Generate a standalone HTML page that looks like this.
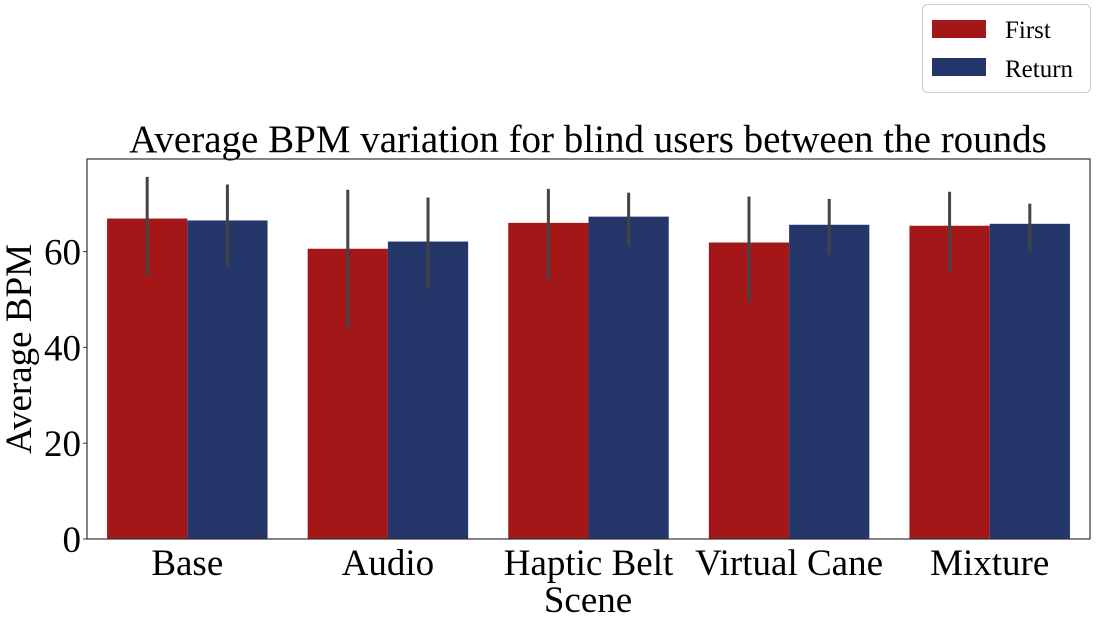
<!DOCTYPE html>
<html><head><meta charset="utf-8"><style>
html,body{margin:0;padding:0;background:#fff;width:1098px;height:625px;overflow:hidden}
text{font-family:"Liberation Serif",serif;fill:#000}
</style></head><body>
<svg id="chart" width="1098" height="625" xmlns="http://www.w3.org/2000/svg">
<text x="588" y="152" font-size="39" text-anchor="middle">Average BPM variation for blind users between the rounds</text>
<text x="588" y="612" font-size="37" text-anchor="middle">Scene</text>
<text transform="translate(31,349) rotate(-90)" font-size="37" text-anchor="middle">Average BPM</text>
<g id="bars"></g>
<rect x="87" y="159" width="1003" height="380" fill="none" stroke="#333" stroke-width="1.2"/>
<g id="axes"></g>
<g>
<rect x="922.5" y="4.5" width="168" height="88" rx="5" fill="#fff" stroke="#ccc"/>
<rect x="932" y="20" width="54" height="18" fill="#a31719"/>
<text x="1005" y="38" font-size="25">First</text>
<rect x="932" y="58" width="54" height="18" fill="#25376a"/>
<text x="1005" y="77" font-size="25">Return</text>
</g>
</svg>
<script>
const categories=["Base","Audio","Haptic Belt","Virtual Cane","Mixture"];
const firstVals=[66.9,60.6,66.0,61.9,65.4];
const firstLo=[54.9,43.9,54.0,49.4,55.5];
const firstHi=[75.6,72.9,73.1,71.5,72.5];
const returnVals=[66.5,62.1,67.3,65.6,65.8];
const returnLo=[56.7,52.2,61.3,59.4,60.1];
const returnHi=[74.0,71.3,72.3,71.0,70.0];
const yTicks=[0,20,40,60];
const ns="http://www.w3.org/2000/svg";
const L=87,R=1090,T=159,B=539,yMax=(B-T)/4.79;
const y=v=>B-v*(B-T)/yMax;
const bw=(R-L)/categories.length;
const x=i=>L+bw*(i+0.5);
const bars=document.getElementById('bars'),axes=document.getElementById('axes');
function mk(tag,attrs,parent){const e=document.createElementNS(ns,tag);for(const k in attrs)e.setAttribute(k,attrs[k]);parent.appendChild(e);return e;}
const barW=bw*0.4;
categories.forEach((c,i)=>{
  [[firstVals,firstLo,firstHi,'#a31719',-1,'first'],[returnVals,returnLo,returnHi,'#25376a',0,'return']].forEach(s=>{
    const [vals,lo,hi,col,off,nm]=s;
    const bx=x(i)+off*barW;
    const r=mk('rect',{x:bx,y:y(vals[i]),width:barW,height:B-y(vals[i]),fill:col},bars);
    
    
    const l=mk('line',{x1:bx+barW/2,x2:bx+barW/2,y1:y(hi[i]),y2:y(lo[i]),stroke:'#444','stroke-width':3},bars);
    
    
  });
  const t=mk('text',{x:x(i),y:575,'font-size':37,'text-anchor':'middle'},axes);
  t.textContent=c;
  
  
});
yTicks.forEach(v=>{
  const tk=mk('line',{x1:L-4,x2:L,y1:y(v),y2:y(v),stroke:'#333'},axes);
  
  
  const t=mk('text',{x:L-6,y:y(v)+13,'font-size':37,'text-anchor':'end'},axes);
  t.textContent=v;
  
  
});
</script>
</body></html>
